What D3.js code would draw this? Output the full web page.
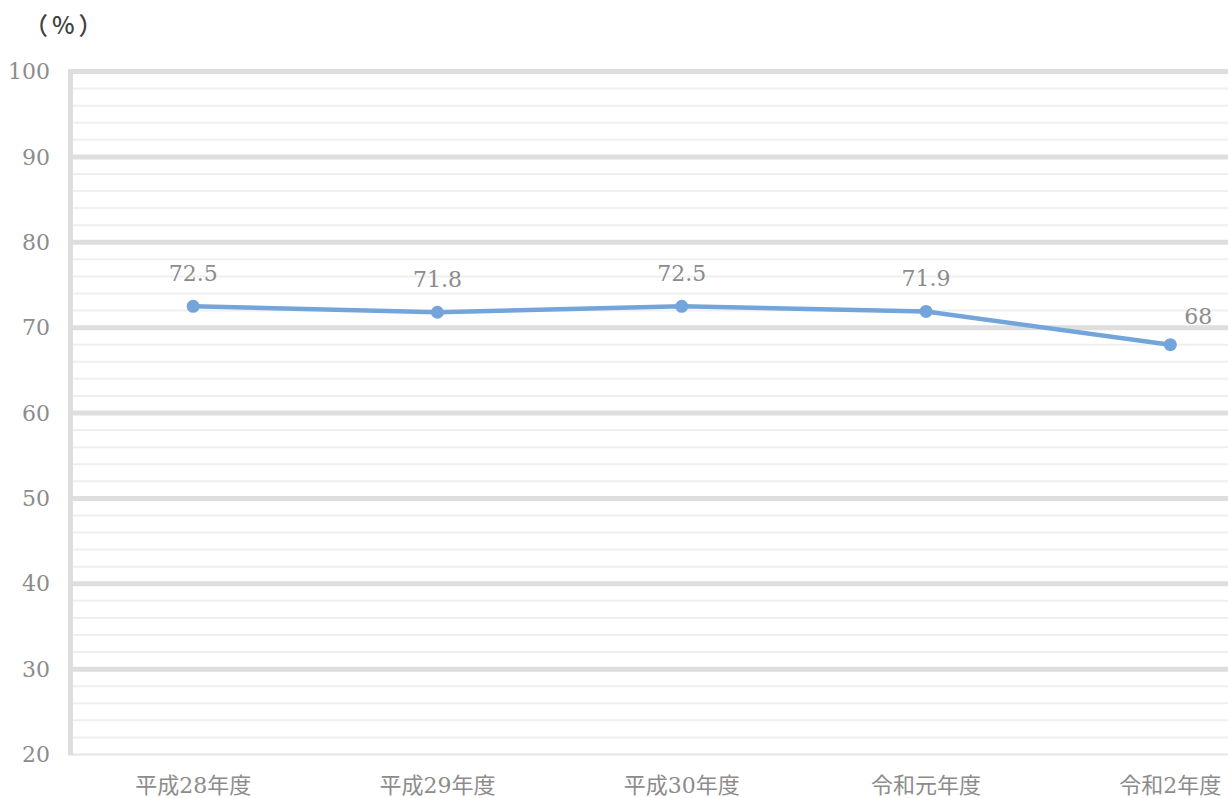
<!DOCTYPE html>
<html lang="ja">
<head>
    <meta charset="UTF-8">
    <title>割合の推移</title>
    <script src="https://d3js.org/d3.v7.min.js"></script>
    <style>
        body { margin: 0; background: #fff; }
        svg { display: block; }
        .num { font-family: "DejaVu Serif", "Liberation Serif", serif; fill: #8c8c8c; }
        .cat { font-family: "DejaVu Serif", "Noto Sans CJK JP", serif; fill: #8c8c8c; }
    </style>
</head>
<body>
    <svg width="1228" height="798"></svg>
    <script>
        // data
        const categories = ["平成28年度", "平成29年度", "平成30年度", "令和元年度", "令和2年度"];
        const values = [72.5, 71.8, 72.5, 71.9, 68];
        const yTicks = [20, 30, 40, 50, 60, 70, 80, 90, 100];
        const yMinorTicks = d3.range(20, 101, 2);

        const svg = d3.select("svg");
        const plotLeft = 71, plotTop = 71.5, plotBottom = 754.5;
        const bandW = 244.3;

        const x = d3.scaleBand()
            .domain(categories)
            .range([plotLeft, plotLeft + bandW * categories.length]);
        const y = d3.scaleLinear().domain([20, 100]).range([plotBottom, plotTop]);

        // minor gridlines
        svg.append("g")
            .selectAll("line")
            .data(yMinorTicks.filter(d => d % 10 !== 0))
            .join("line")
            .attr("x1", plotLeft).attr("x2", 1228)
            .attr("y1", d => y(d)).attr("y2", d => y(d))
            .attr("stroke", "#efefef")
            .attr("stroke-width", 2);

        // major gridlines
        svg.append("g")
            .selectAll("line")
            .data(yTicks.filter(d => d > 20))
            .join("line")
            .attr("x1", plotLeft).attr("x2", 1228)
            .attr("y1", d => y(d)).attr("y2", d => y(d))
            .attr("stroke", "#dedede")
            .attr("stroke-width", 5);

        // bottom axis line
        svg.append("line")
            .attr("x1", plotLeft).attr("x2", 1228)
            .attr("y1", y(20)).attr("y2", y(20))
            .attr("stroke", "#e6e6e6")
            .attr("stroke-width", 2);

        // left axis bar
        svg.append("line")
            .attr("x1", plotLeft - 0.5).attr("x2", plotLeft - 0.5)
            .attr("y1", y(100) - 2.5).attr("y2", y(20) + 1)
            .attr("stroke", "#dedede")
            .attr("stroke-width", 5);

        // y tick labels
        svg.append("g")
            .selectAll("text")
            .data(yTicks)
            .join("text")
            .attr("class", "num")
            .attr("x", 50)
            .attr("y", d => y(d))
            .attr("dy", "0.35em")
            .attr("text-anchor", "end")
            .attr("font-size", 22)
            .text(d => d);

        // category labels
        svg.append("g")
            .selectAll("text")
            .data(categories)
            .join("text")
            .attr("class", "cat")
            .attr("x", d => x(d) + x.bandwidth() / 2)
            .attr("y", 793)
            .attr("text-anchor", "middle")
            .attr("font-size", 22)
            .text(d => d);

        // unit label
        svg.append("text")
            .attr("x", 24)
            .attr("y", 34)
            .attr("font-family", "'Noto Sans CJK JP', 'Noto Sans', sans-serif")
            .attr("font-size", 24)
            .attr("font-weight", 500)
            .attr("letter-spacing", 4)
            .attr("fill", "#404040")
            .text("（%）");

        const pts = categories.map((c, i) => ({ c, v: values[i] }));
        const cx = d => x(d.c) + x.bandwidth() / 2;

        const line = d3.line().x(cx).y(d => y(d.v));
        svg.append("path")
            .datum(pts)
            .attr("d", line)
            .attr("fill", "none")
            .attr("stroke", "#74a5da")
            .attr("stroke-width", 4.5)
            .attr("stroke-linejoin", "round");

        svg.append("g")
            .selectAll("circle")
            .data(pts)
            .join("circle")
            .attr("cx", cx)
            .attr("cy", d => y(d.v))
            .attr("r", 6.5)
            .attr("fill", "#74a5da");

        // value labels (last one nudged to the upper right, as in the original)
        const last = pts.length - 1;
        svg.append("g")
            .selectAll("text")
            .data(pts)
            .join("text")
            .attr("class", "num")
            .attr("x", (d, i) => cx(d) + (i === last ? 28 : 0))
            .attr("y", (d, i) => y(d.v) - (i === last ? 21 : 25))
            .attr("text-anchor", "middle")
            .attr("font-size", 22)
            .text(d => d.v);
    </script>
</body>
</html>
